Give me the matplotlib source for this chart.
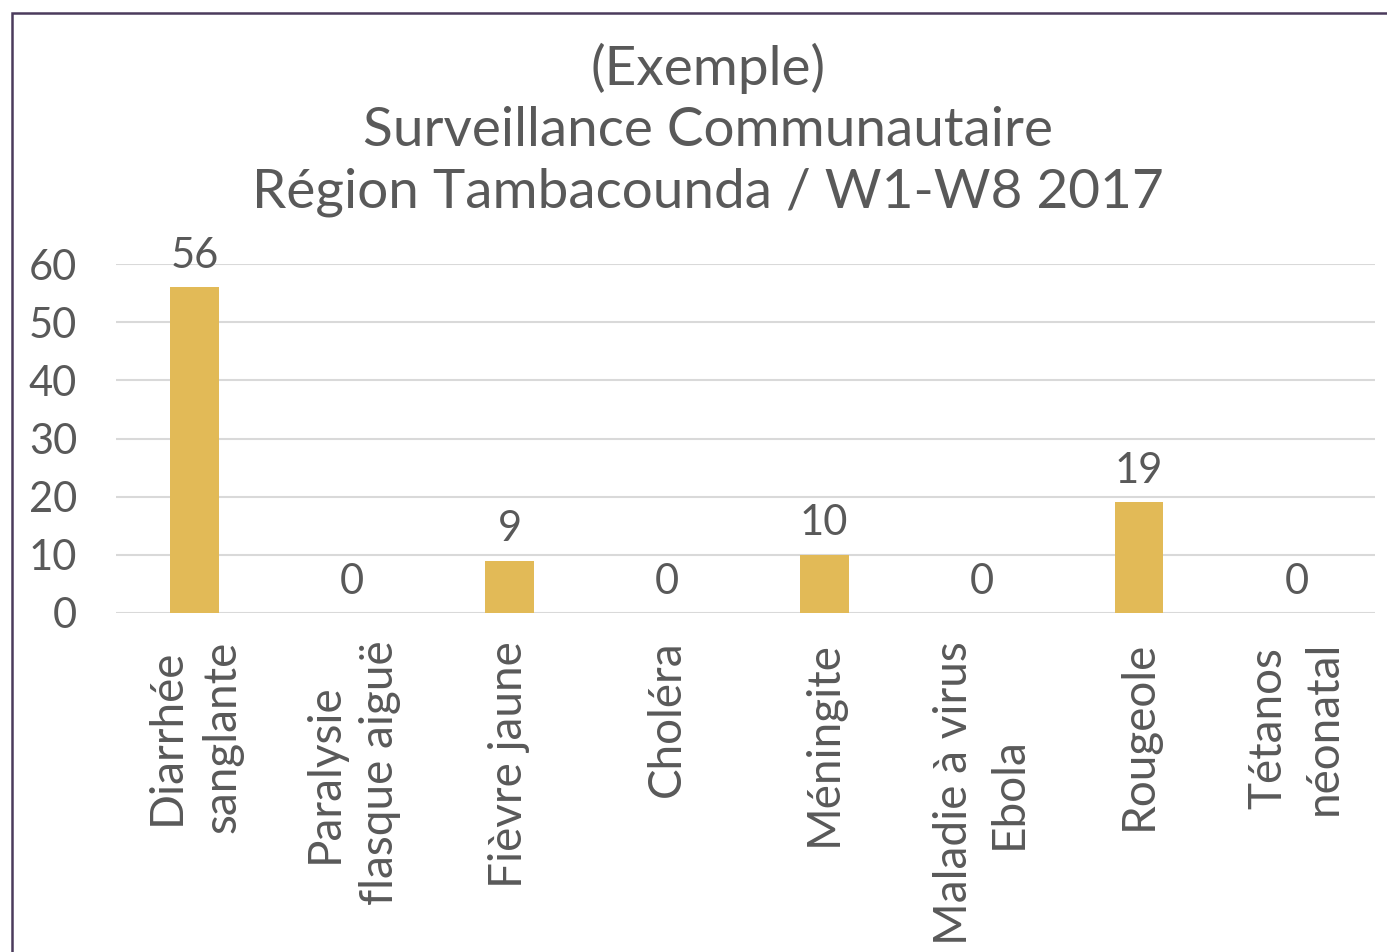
import matplotlib
matplotlib.use("Agg")
import matplotlib.pyplot as plt
from matplotlib.patches import Rectangle

categories = ["Diarrhée\nsanglante", "Paralysie\nflasque aiguë", "Fièvre jaune", "Choléra",
              "Méningite", "Maladie à virus\nEbola", "Rougeole", "Tétanos\nnéonatal"]
values = [56, 0, 9, 0, 10, 0, 19, 0]
yticks = [0, 10, 20, 30, 40, 50, 60]
title_lines = ["(Exemple)", "Surveillance Communautaire", "Région Tambacounda / W1-W8 2017"]

plt.rcParams['font.family'] = ['Lato', 'DejaVu Sans']
TXT = '#595959'
BAR = '#E2BA57'
GRID = '#D9D9D9'

W, H = 1387, 952
fig = plt.figure(figsize=(W/100, H/100), dpi=100)
fig.patch.set_facecolor('white')

ax = fig.add_axes([116/W, 1-613/H, (1375-116)/W, (613-264)/H])
x = list(range(len(categories)))
bars = ax.bar(x, values, width=0.31, color=BAR, zorder=3)
ax.set_xlim(-0.5, len(categories)-0.5)
ax.set_ylim(0, 60)
ax.set_yticks(yticks)
ax.set_yticklabels([str(t) for t in yticks], fontsize=30, color=TXT)
ax.set_xticks(x)
ax.set_xticklabels(categories, rotation=90, fontsize=33, color=TXT,
                   ha='center', va='top', multialignment='center', linespacing=1.38)
ax.tick_params(axis='both', length=0)
ax.tick_params(axis='y', pad=28)
ax.tick_params(axis='x', pad=20)
for s in ax.spines.values():
    s.set_visible(False)
ax.grid(axis='y', color=GRID, linewidth=1.5, zorder=0)
ax.set_axisbelow(True)

for xi, v in zip(x, values):
    ax.annotate(str(v), (xi, v), xytext=(0, 14), textcoords='offset points',
                ha='center', va='baseline', fontsize=30, color=TXT)

for i, line in enumerate(title_lines):
    fig.text(708/W, 1-(68+62*i)/H, line, ha='center', va='center', fontsize=39.5, color=TXT)

fig.patches.append(Rectangle((12/W, -0.05), 1.1, 1-13/H+0.05, transform=fig.transFigure,
                             fill=False, edgecolor='#4B3B5C', linewidth=1.8))

fig.savefig('out.png', dpi=100)
